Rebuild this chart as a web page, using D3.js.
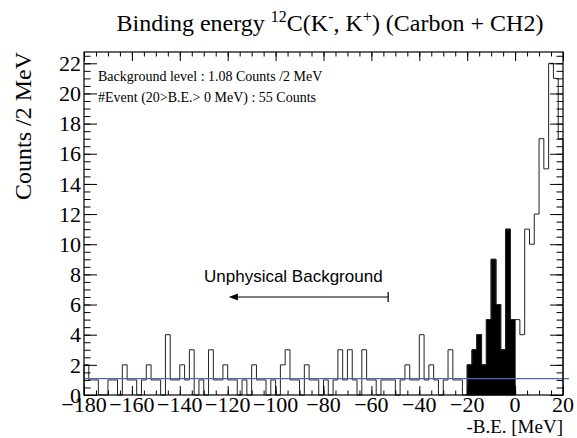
<!DOCTYPE html>
<html><head><meta charset="utf-8">
<script src="https://cdn.jsdelivr.net/npm/d3@7/dist/d3.min.js"></script>
<style>body{margin:0;background:#fff} svg{display:block}</style>
</head><body>
<svg id="c" width="577" height="438"></svg>
<script>
// ---- data ----
const binWidth = 2;                       // MeV per bin
const binLowEdges = d3.range(-180, 20, binWidth);
const counts = [
  2,1,1,0,0,1,1,0,2,1,
  1,0,1,2,1,1,0,4,1,1,
  2,1,3,0,1,0,3,1,1,2,
  1,1,0,1,0,2,1,1,0,1,
  0,2,3,1,1,0,2,1,1,0,
  1,0,1,3,1,3,1,0,3,1,
  1,0,1,1,1,0,1,2,1,1,
  4,1,2,1,0,1,3,1,1,0,
  2,3,4,2,5,9,6,3,11,5,
  5,4,11,10,12,17,15,22,21,17
];
const signalRange = [-20, 0];             // filled bins (bound region)
const backgroundLevel = 1.08;
const xTicks = [-180,-160,-140,-120,-100,-80,-60,-40,-20,0,20];
const xTickLabels = ["\u2212180","\u2212160","\u2212140","\u2212120","\u2212100","\u221280","\u221260","\u221240","\u221220","0","20"];
const yTicks = [0,2,4,6,8,10,12,14,16,18,20,22];
const yTickLabels = ["0","2","4","6","8","10","12","14","16","18","20","22"];
const arrowRange = [-119.5, -53];         // "Unphysical Background" arrow (MeV)
const arrowLevel = 6.5;
const annotations = ["Background level : 1.08 Counts /2 MeV", "#Event (20>B.E.> 0 MeV) : 55 Counts"];

// ---- layout ----
const L = 84, R = 563, T = 52, B = 395;
const x = d3.scaleLinear().domain([-180, 20]).range([L, R]);
const y = d3.scaleLinear().domain([0, 22.75]).range([B, T]);
const svg = d3.select("#c");
const serif = "'Liberation Serif','Times New Roman',serif";
const sans = "'Liberation Sans',Arial,Helvetica,sans-serif";

const bins = binLowEdges.map((lo, i) => ({lo, hi: lo + binWidth, c: counts[i]}));

// filled signal bins
const sig = bins.filter(b => b.lo >= signalRange[0] && b.hi <= signalRange[1]);
const sigPts = [];
sig.forEach(b => { sigPts.push([b.lo, b.c]); sigPts.push([b.hi, b.c]); });
svg.append("path")
  .attr("d", d3.area().x(d => x(d[0])).y0(y(0)).y1(d => y(d[1]))(sigPts))
  .attr("fill", "#000").attr("stroke", "#000").attr("stroke-width", 1);

// outline of whole histogram
const pts = [[-180, 0]];
bins.forEach(b => { pts.push([b.lo, b.c]); pts.push([b.hi, b.c]); });
pts.push([20, 0]);
svg.append("path")
  .attr("d", d3.line().x(d => x(d[0])).y(d => y(d[1]))(pts))
  .attr("fill", "none").attr("stroke", "#222").attr("stroke-width", 1);

// background level line
svg.append("line")
  .attr("x1", x(-180)).attr("x2", x(20) + 6)
  .attr("y1", y(backgroundLevel)).attr("y2", y(backgroundLevel))
  .attr("stroke", "#4f68aa").attr("stroke-width", 1.2);

// ---- axes (ticks inward) ----
const xMinor = d3.range(-180, 20.01, 5);
const yMinor = d3.range(0, 22.76, 0.5);
function styleAxis(g) { g.select(".domain").remove(); g.selectAll("line").attr("stroke", "#000"); }
svg.append("g").attr("transform", `translate(0,${B})`)
  .call(d3.axisBottom(x).tickValues(xMinor).tickSize(-4.5).tickFormat("")).call(styleAxis);
svg.append("g").attr("transform", `translate(0,${B})`)
  .call(d3.axisBottom(x).tickValues(xTicks).tickSize(-9).tickFormat("")).call(styleAxis);
svg.append("g").attr("transform", `translate(0,${T})`)
  .call(d3.axisTop(x).tickValues(xMinor).tickSize(-4.5).tickFormat("")).call(styleAxis);
svg.append("g").attr("transform", `translate(0,${T})`)
  .call(d3.axisTop(x).tickValues(xTicks).tickSize(-9).tickFormat("")).call(styleAxis);
svg.append("g").attr("transform", `translate(${L},0)`)
  .call(d3.axisLeft(y).tickValues(yMinor).tickSize(-6.5).tickFormat("")).call(styleAxis);
svg.append("g").attr("transform", `translate(${L},0)`)
  .call(d3.axisLeft(y).tickValues(yTicks).tickSize(-13).tickFormat("")).call(styleAxis);
svg.append("g").attr("transform", `translate(${R},0)`)
  .call(d3.axisRight(y).tickValues(yMinor).tickSize(-6.5).tickFormat("")).call(styleAxis);
svg.append("g").attr("transform", `translate(${R},0)`)
  .call(d3.axisRight(y).tickValues(yTicks).tickSize(-13).tickFormat("")).call(styleAxis);

// frame
svg.append("rect").attr("x", L).attr("y", T).attr("width", R - L).attr("height", B - T)
  .attr("fill", "none").attr("stroke", "#000").attr("stroke-width", 1.2);

// tick labels
svg.append("g").selectAll("text").data(xTicks).join("text")
  .attr("x", d => x(d)).attr("y", 412).attr("text-anchor", "middle")
  .attr("font-family", serif).attr("font-size", 22)
  .text((d, i) => xTickLabels[i]);
svg.append("g").selectAll("text").data(yTicks).join("text")
  .attr("x", 81).attr("y", d => y(d)).attr("dy", "0.35em").attr("text-anchor", "end")
  .attr("font-family", serif).attr("font-size", 22)
  .text((d, i) => yTickLabels[i]);

// axis titles
svg.append("text").attr("x", R).attr("y", 433).attr("text-anchor", "end")
  .attr("font-family", serif).attr("font-size", 19).text("-B.E. [MeV]");
svg.append("text").attr("transform", `translate(31,${T}) rotate(-90)`).attr("text-anchor", "end")
  .attr("font-family", serif).attr("font-size", 24).text("Counts /2 MeV");

// title
const title = svg.append("text").attr("x", 330).attr("y", 31).attr("text-anchor", "middle")
  .attr("font-family", serif).attr("font-size", 24);
title.append("tspan").text("Binding energy ");
title.append("tspan").attr("font-size", 16).attr("dy", -9).text("12");
title.append("tspan").attr("dy", 9).text("C(K");
title.append("tspan").attr("font-size", 16).attr("dy", -9).text("-");
title.append("tspan").attr("dy", 9).text(", K");
title.append("tspan").attr("font-size", 16).attr("dy", -9).text("+");
title.append("tspan").attr("dy", 9).text(") (Carbon + CH2)");

// annotations
svg.append("g").selectAll("text").data(annotations).join("text")
  .attr("x", 98).attr("y", (d, i) => 81 + i * 21)
  .attr("font-family", serif).attr("font-size", 14).text(d => d);

// unphysical background arrow
const ay = y(arrowLevel);
svg.append("text").attr("x", 204).attr("y", 282)
  .attr("font-family", sans).attr("font-size", 17).text("Unphysical Background");
svg.append("line").attr("x1", x(arrowRange[0]) + 6).attr("x2", x(arrowRange[1]))
  .attr("y1", ay).attr("y2", ay).attr("stroke", "#000").attr("stroke-width", 1.2);
svg.append("line").attr("x1", x(arrowRange[1])).attr("x2", x(arrowRange[1]))
  .attr("y1", ay - 5).attr("y2", ay + 5).attr("stroke", "#000").attr("stroke-width", 1.2);
svg.append("path")
  .attr("d", `M${x(arrowRange[0])},${ay} l9,-3.5 l0,7 z`).attr("fill", "#000");
</script>
</body></html>
